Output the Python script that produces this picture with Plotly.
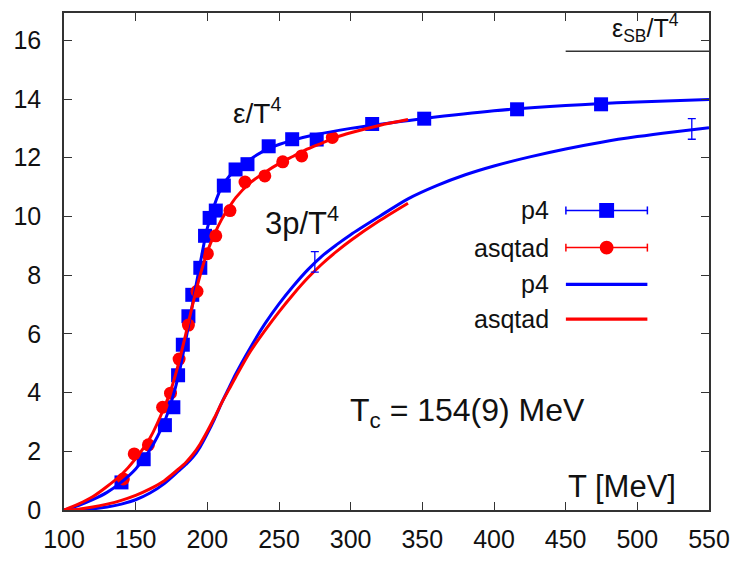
import plotly.graph_objects as go

# ---------------- data ----------------
# p4 energy density points (eps/T^4)
p4_T = [140.1, 155.6, 170.4, 176.3, 179.6, 182.9, 186.8, 189.5, 195.1, 198.4, 201.6, 205.9,
        211.5, 219.7, 228.0, 242.8, 259.2, 276.3, 315.0, 351.3, 416.1, 474.7]
p4_eps = [0.94, 1.73, 2.89, 3.50, 4.59, 5.63, 6.60, 7.33, 8.25, 9.34, 9.95, 10.20,
          11.05, 11.60, 11.78, 12.39, 12.63, 12.62, 13.15, 13.33, 13.65, 13.82]

# asqtad energy density points (eps/T^4)
asq_T = [141.4, 149.0, 158.9, 168.8, 174.3, 180.3, 186.8, 192.8, 200.0, 205.9, 215.8,
         226.3, 240.1, 252.6, 265.8, 287.2]
asq_eps = [1.06, 1.91, 2.22, 3.50, 3.98, 5.14, 6.30, 7.45, 8.73, 9.34, 10.20,
           11.17, 11.38, 11.86, 12.06, 12.69]

# p4 eps/T^4 curve
p4c_T = [100, 110, 120, 130, 140, 150, 160, 170, 175, 180, 185, 190, 195, 200, 205, 210,
         215, 220, 230, 240, 250, 260, 275, 300, 325, 350, 400, 450, 500, 550]
p4c_eps = [0.0, 0.15, 0.35, 0.6, 0.95, 1.4, 2.05, 3.0, 3.7, 4.6, 5.8, 7.1, 8.4, 9.6, 10.4, 11.0,
           11.35, 11.6, 11.95, 12.25, 12.45, 12.6, 12.78, 13.0, 13.17, 13.33, 13.6, 13.78, 13.9, 13.98]

# asqtad eps/T^4 curve
asqc_T = [100, 110, 120, 130, 140, 150, 160, 170, 175, 180, 185, 190, 195, 200, 205, 210,
          215, 220, 230, 240, 250, 260, 270, 280, 290, 300, 320, 340]
asqc_eps = [0.0, 0.2, 0.45, 0.8, 1.2, 1.75, 2.45, 3.5, 4.15, 5.0, 6.0, 7.05, 8.0, 8.8, 9.4, 9.9,
            10.3, 10.65, 11.15, 11.5, 11.8, 12.05, 12.3, 12.5, 12.7, 12.85, 13.1, 13.3]

# p4 3p/T^4 curve
p4p_T = [100, 110, 120, 130, 140, 150, 160, 170, 180, 185, 190, 195, 200, 205, 210, 215, 220,
         230, 240, 250, 260, 270, 280, 290, 300, 320, 340, 360, 380, 400, 425, 450, 475, 500, 525, 550]
p4p_3p = [0.0, 0.01, 0.04, 0.1, 0.2, 0.35, 0.58, 0.9, 1.33, 1.55, 1.8, 2.15, 2.6, 3.1, 3.65, 4.15, 4.65,
          5.53, 6.33, 7.02, 7.63, 8.18, 8.65, 9.03, 9.38, 10.0, 10.6, 11.05, 11.42, 11.72, 12.03, 12.3,
          12.53, 12.72, 12.88, 13.02]

# asqtad 3p/T^4 curve
asqp_T = [100, 110, 120, 130, 140, 150, 160, 170, 180, 185, 190, 195, 200, 205, 210, 215, 220,
          230, 240, 250, 260, 270, 280, 290, 300, 320, 340]
asqp_3p = [0.0, 0.03, 0.1, 0.2, 0.33, 0.5, 0.72, 1.0, 1.4, 1.62, 1.9, 2.25, 2.68, 3.15, 3.65, 4.1, 4.55,
           5.4, 6.1, 6.75, 7.35, 7.9, 8.38, 8.8, 9.18, 9.85, 10.45]

# error bars on p4 3p/T^4 curve
err_T = [275, 538]
err_val = [8.45, 12.98]
err_size = [0.35, 0.35]

# Stefan-Boltzmann limit
sb_T = [450, 550]
sb_val = [15.63, 15.63]

x_ticks = [100, 150, 200, 250, 300, 350, 400, 450, 500, 550]
y_ticks = [0, 2, 4, 6, 8, 10, 12, 14, 16]

BLUE = "#0000ff"
RED = "#ff0000"
FONT = "Liberation Sans, Arial, sans-serif"
TXT = "#111111"

fig = go.Figure()

fig.add_trace(go.Scatter(x=p4_T, y=p4_eps, mode="markers",
                         marker=dict(symbol="square", size=14, color=BLUE, line=dict(width=0))))
fig.add_trace(go.Scatter(x=asq_T, y=asq_eps, mode="markers",
                         marker=dict(symbol="circle", size=13, color=RED, line=dict(width=0))))
spl = dict(width=3, shape="spline", smoothing=0.8)
fig.add_trace(go.Scatter(x=p4c_T, y=p4c_eps, mode="lines", line=dict(color=BLUE, **spl)))
fig.add_trace(go.Scatter(x=p4p_T, y=p4p_3p, mode="lines", line=dict(color=BLUE, **spl)))
fig.add_trace(go.Scatter(x=asqc_T, y=asqc_eps, mode="lines", line=dict(color=RED, **spl)))
fig.add_trace(go.Scatter(x=asqp_T, y=asqp_3p, mode="lines", line=dict(color=RED, **spl)))
fig.add_trace(go.Scatter(x=err_T, y=err_val, mode="markers",
                         marker=dict(size=1, color=BLUE),
                         error_y=dict(type="data", array=err_size, color=BLUE, thickness=1.3, width=4)))
fig.add_trace(go.Scatter(x=sb_T, y=sb_val, mode="lines", line=dict(color="#333333", width=1.5)))

# ---------- layout ----------
L, R, T, B = 64, 28, 11, 52
W, H = 741, 564
PW, PH = W - L - R, H - T - B


def px(x):
    return (x - L) / PW


def py(y):
    return (H - B - y) / PH


shapes = []
ann = []

# legend rows (gnuplot style: text on left, sample on right)
rows = [("p4", BLUE, "sq", 210), ("asqtad", RED, "ci", 247.5),
        ("p4", BLUE, "line", 284.5), ("asqtad", RED, "line", 319.5)]
x0, x1, xm = 569, 651, 610
for label, col, kind, yy in rows:
    ann.append(dict(x=px(554), y=py(yy), xref="paper", yref="paper", text=label, showarrow=False,
                    xanchor="right", yanchor="middle", font=dict(family=FONT, size=25, color=TXT)))
    if kind == "line":
        shapes.append(dict(type="line", xref="paper", yref="paper", x0=px(x0), x1=px(x1),
                           y0=py(yy), y1=py(yy), line=dict(color=col, width=3.3)))
    else:
        shapes.append(dict(type="line", xref="paper", yref="paper", x0=px(x0), x1=px(x1),
                           y0=py(yy), y1=py(yy), line=dict(color=col, width=1.5)))
        for xc in (x0, x1):
            shapes.append(dict(type="line", xref="paper", yref="paper", x0=px(xc), x1=px(xc),
                               y0=py(yy - 4), y1=py(yy + 4), line=dict(color=col, width=1.5)))
        h = 7.5 if kind == "sq" else 7
        shapes.append(dict(type="rect" if kind == "sq" else "circle", xref="paper", yref="paper",
                           x0=px(xm - h), x1=px(xm + h), y0=py(yy - h), y1=py(yy + h),
                           fillcolor=col, line=dict(width=0)))

ann += [
    dict(x=px(232), y=py(130), xref="paper", yref="paper", text="ε/T<sup>4</sup>", showarrow=False,
         xanchor="left", yanchor="bottom", font=dict(family=FONT, size=28, color=TXT)),
    dict(x=px(264), y=py(243), xref="paper", yref="paper", text="3p/T<sup>4</sup>", showarrow=False,
         xanchor="left", yanchor="bottom", font=dict(family=FONT, size=31, color=TXT)),
    dict(x=px(350), y=py(414), xref="paper", yref="paper", text="T<sub>c</sub> = 154(9) MeV",
         showarrow=False, xanchor="left", yanchor="middle", font=dict(family=FONT, size=32, color=TXT)),
    dict(x=px(682), y=py(488), xref="paper", yref="paper", text="T [MeV]", showarrow=False,
         xanchor="right", yanchor="middle", font=dict(family=FONT, size=31, color=TXT)),
    dict(x=px(685), y=py(26), xref="paper", yref="paper", text="ε<sub>SB</sub>/T<sup>4</sup>",
         showarrow=False, xanchor="right", yanchor="middle", font=dict(family=FONT, size=25, color=TXT)),
]

fig.update_layout(
    width=W, height=H,
    margin=dict(l=L, r=R, t=T, b=B, pad=0),
    plot_bgcolor="white", paper_bgcolor="white",
    showlegend=False,
    shapes=shapes, annotations=ann,
    font=dict(family=FONT, color=TXT),
)
axis_common = dict(showgrid=False, zeroline=False, showline=True, linecolor="#333333", linewidth=1.5,
                   mirror="ticks", ticks="inside", ticklen=8, tickwidth=1.3, tickcolor="#333333",
                   tickfont=dict(family=FONT, size=25, color=TXT))
fig.update_xaxes(range=[100, 550], tickvals=x_ticks, ticktext=[str(v) for v in x_ticks],
                 ticklabelstandoff=6, **axis_common)
fig.update_yaxes(range=[0, 16.93], tickvals=y_ticks, ticktext=[str(v) for v in y_ticks],
                 ticklabelstandoff=16, **axis_common)

fig.write_html("out.html", config={"displayModeBar": False},
               post_script="document.body.style.margin='0';document.body.style.padding='0';")
